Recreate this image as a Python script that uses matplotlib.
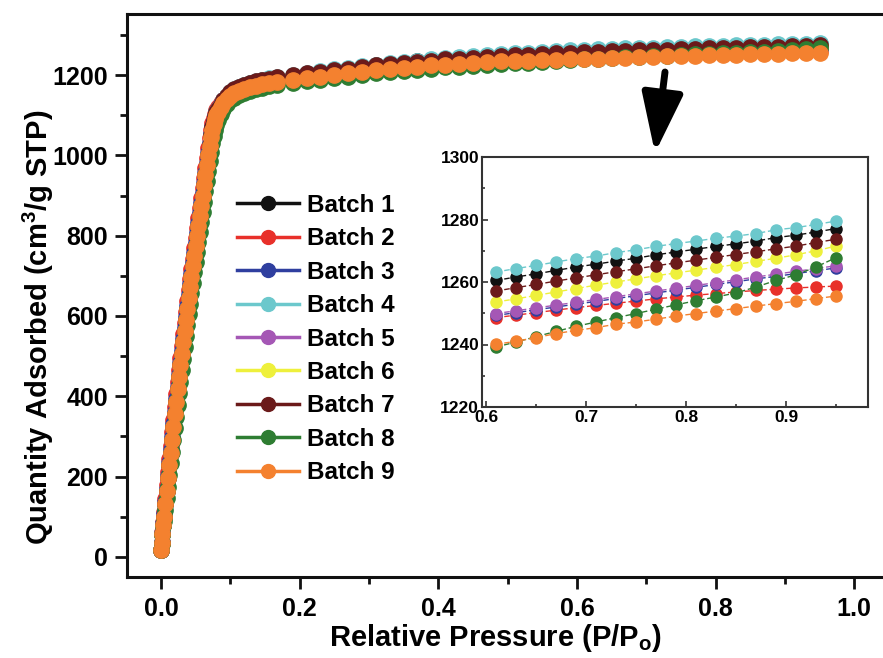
import matplotlib
matplotlib.use("Agg")
import matplotlib.pyplot as plt
from matplotlib.ticker import MultipleLocator

plt.rcParams['font.family'] = ['Liberation Sans', 'DejaVu Sans']
plt.rcParams['font.weight'] = 'bold'

# ---------------- data ----------------
labels = ["Batch 1", "Batch 2", "Batch 3", "Batch 4", "Batch 5",
          "Batch 6", "Batch 7", "Batch 8", "Batch 9"]
colors = ["#111111", "#e8302a", "#2f3f9f", "#6cc8cc", "#a557b5",
          "#eef03c", "#6b1a1a", "#2e7d32", "#f4812f"]

# relative pressure grid (main plot, P/Po < 0.6)
p_main = [0.0005, 0.001, 0.002, 0.003,
          0.004, 0.006, 0.008, 0.010, 0.012, 0.014, 0.016, 0.018, 0.020, 0.022,
          0.024, 0.026, 0.028, 0.030, 0.032, 0.034, 0.036, 0.038, 0.040, 0.042,
          0.044, 0.046, 0.048, 0.050, 0.052, 0.054, 0.056, 0.058, 0.060, 0.062,
          0.064, 0.066, 0.068, 0.070, 0.072, 0.074, 0.076, 0.078, 0.080, 0.082,
          0.086, 0.090, 0.095, 0.100, 0.106, 0.113, 0.120, 0.128, 0.137, 0.146,
          0.156, 0.167,
          0.19, 0.21, 0.23, 0.25, 0.27, 0.29, 0.31, 0.33, 0.35, 0.37, 0.39,
          0.41, 0.43, 0.45, 0.47, 0.49, 0.51, 0.53, 0.55, 0.57, 0.59]

b1_main = [17, 35, 58, 80,
           100, 132, 164, 196, 228, 260, 292, 324, 356, 387, 417, 447, 477, 506, 535, 563,
           591, 618, 645, 672, 698, 724, 750, 775, 800, 825, 850, 875, 900, 925, 950, 975,
           1000, 1026, 1050, 1069, 1084, 1096, 1106, 1114,
           1124, 1136, 1147, 1156, 1163, 1169, 1174, 1179, 1183, 1187, 1190, 1193,
           1198, 1203, 1208, 1212, 1216, 1220, 1224, 1228, 1231, 1234, 1237,
           1240, 1243, 1245, 1247, 1249, 1251, 1253, 1255, 1257, 1259]
b2_main = [18, 38, 63, 88,
           112, 145, 178, 211, 244, 277, 310, 342, 374, 405, 436, 466, 496, 525, 554, 582,
           610, 637, 664, 691, 717, 743, 769, 794, 819, 844, 869, 894, 919, 944, 969, 994,
           1018, 1042, 1063, 1080, 1093, 1104, 1113, 1120,
           1130, 1139, 1147, 1154, 1159, 1164, 1168, 1172, 1176, 1179, 1182, 1185,
           1190, 1195, 1199, 1203, 1207, 1211, 1215, 1218, 1221, 1224, 1227,
           1230, 1232, 1234, 1236, 1238, 1240, 1242, 1244, 1246, 1247]
b3_main = [17, 36, 60, 84,
           106, 138, 170, 202, 234, 266, 298, 330, 362, 393, 424, 454, 484, 513, 542, 570,
           598, 625, 652, 679, 705, 731, 757, 782, 807, 832, 857, 882, 907, 932, 957, 982,
           1007, 1031, 1053, 1071, 1085, 1097, 1107, 1115,
           1127, 1137, 1146, 1153, 1159, 1164, 1169, 1173, 1177, 1180, 1183, 1186,
           1191, 1196, 1200, 1204, 1208, 1212, 1216, 1219, 1222, 1225, 1228,
           1231, 1233, 1235, 1237, 1239, 1241, 1243, 1245, 1247, 1248]
b4_main = [17, 35, 58, 80,
           100, 132, 164, 196, 228, 260, 292, 324, 356, 387, 417, 447, 477, 506, 535, 563,
           591, 618, 645, 672, 698, 724, 750, 775, 800, 825, 850, 875, 900, 925, 950, 975,
           1000, 1026, 1050, 1069, 1084, 1097, 1107, 1115,
           1125, 1137, 1148, 1157, 1164, 1170, 1175, 1180, 1184, 1188, 1192, 1195,
           1200, 1205, 1210, 1214, 1218, 1222, 1226, 1230, 1233, 1236, 1239,
           1242, 1245, 1248, 1250, 1252, 1254, 1256, 1258, 1260, 1262]
b5_main = [17, 35, 58, 80,
           100, 132, 164, 196, 228, 260, 292, 324, 356, 387, 417, 447, 477, 506, 535, 563,
           591, 618, 645, 672, 698, 724, 750, 775, 800, 825, 850, 875, 900, 925, 950, 975,
           1000, 1023, 1044, 1061, 1075, 1087, 1097, 1106,
           1118, 1128, 1137, 1145, 1152, 1158, 1163, 1168, 1172, 1176, 1180, 1183,
           1188, 1193, 1198, 1202, 1206, 1210, 1214, 1218, 1221, 1224, 1227,
           1230, 1232, 1234, 1236, 1238, 1240, 1242, 1244, 1246, 1248]
b6_main = [17, 35, 58, 80,
           100, 132, 164, 196, 228, 260, 292, 324, 356, 387, 417, 447, 477, 506, 535, 563,
           591, 618, 645, 672, 698, 724, 750, 775, 800, 825, 850, 875, 900, 925, 950, 975,
           1000, 1024, 1046, 1064, 1078, 1090, 1101, 1110,
           1121, 1132, 1142, 1150, 1157, 1163, 1168, 1173, 1177, 1181, 1184, 1187,
           1192, 1197, 1202, 1206, 1210, 1214, 1218, 1222, 1225, 1228, 1231,
           1234, 1236, 1238, 1240, 1242, 1244, 1246, 1248, 1250, 1252]
b7_main = [17, 35, 58, 80,
           100, 132, 164, 196, 228, 260, 292, 324, 356, 387, 417, 447, 477, 506, 535, 563,
           591, 618, 645, 672, 698, 724, 750, 775, 800, 825, 850, 875, 900, 925, 950, 975,
           1001, 1027, 1051, 1070, 1085, 1097, 1107, 1115,
           1125, 1137, 1148, 1157, 1164, 1170, 1175, 1180, 1184, 1188, 1191, 1194,
           1199, 1204, 1208, 1212, 1216, 1220, 1224, 1227, 1230, 1233, 1236,
           1239, 1241, 1243, 1245, 1247, 1249, 1251, 1253, 1254, 1256]
b8_main = [17, 33, 55, 76,
           90, 118, 146, 175, 204, 233, 262, 291, 320, 349, 378, 407, 436, 465, 494, 522,
           550, 577, 604, 631, 657, 683, 709, 735, 760, 785, 810, 835, 860, 885, 910, 935,
           960, 985, 1008, 1030, 1048, 1063, 1076, 1087,
           1103, 1116, 1128, 1137, 1144, 1150, 1155, 1160, 1164, 1168, 1172, 1175,
           1179, 1184, 1188, 1192, 1196, 1200, 1204, 1207, 1210, 1213, 1216,
           1219, 1221, 1223, 1225, 1227, 1229, 1231, 1233, 1235, 1237]
b9_main = [17, 35, 58, 80,
           100, 132, 164, 196, 228, 260, 292, 324, 356, 387, 417, 447, 477, 506, 535, 563,
           591, 618, 645, 672, 698, 724, 750, 775, 800, 825, 850, 875, 900, 925, 950, 975,
           1000, 1024, 1046, 1064, 1078, 1090, 1100, 1108,
           1120, 1131, 1141, 1149, 1155, 1160, 1165, 1169, 1173, 1177, 1180, 1183,
           1187, 1192, 1196, 1200, 1204, 1208, 1212, 1215, 1218, 1221, 1224,
           1226, 1228, 1230, 1232, 1234, 1235, 1236, 1237, 1238, 1239]

# high-pressure points (shown in the inset and in the main plot)
p_high = [0.61, 0.63, 0.65, 0.67, 0.69, 0.71, 0.73, 0.75, 0.77,
          0.79, 0.81, 0.83, 0.85, 0.87, 0.89, 0.91, 0.93, 0.95]
b1_high = [1260.5, 1261.6, 1262.6, 1263.7, 1264.8, 1265.7, 1266.7, 1267.6, 1268.7,
           1269.6, 1270.5, 1271.4, 1272.2, 1273.1, 1274.2, 1275.0, 1276.0, 1277.1]
b2_high = [1248.6, 1249.4, 1250.2, 1251.0, 1251.8, 1252.5, 1253.2, 1253.9, 1254.6,
           1255.2, 1255.8, 1256.3, 1256.8, 1257.3, 1257.7, 1258.1, 1258.4, 1258.7]
b3_high = [1249.3, 1250.2, 1251.1, 1252.0, 1252.9, 1253.8, 1254.7, 1255.6, 1256.5,
           1257.4, 1258.3, 1259.2, 1260.1, 1261.0, 1261.8, 1262.7, 1263.6, 1264.5]
b4_high = [1263.2, 1264.3, 1265.3, 1266.4, 1267.5, 1268.3, 1269.4, 1270.3, 1271.4,
           1272.3, 1273.1, 1274.0, 1274.7, 1275.5, 1276.7, 1277.4, 1278.4, 1279.5]
b5_high = [1249.9, 1250.8, 1251.7, 1252.6, 1253.5, 1254.4, 1255.3, 1256.2, 1257.1,
           1258.0, 1258.9, 1259.8, 1260.7, 1261.6, 1262.5, 1263.4, 1264.3, 1265.2]
b6_high = [1253.6, 1254.6, 1255.7, 1256.8, 1257.9, 1259.0, 1260.0, 1261.0, 1262.0,
           1262.9, 1263.8, 1264.7, 1265.6, 1266.6, 1267.6, 1268.7, 1270.0, 1271.5]
b7_high = [1257.1, 1258.2, 1259.2, 1260.3, 1261.3, 1262.3, 1263.3, 1264.2, 1265.2,
           1266.1, 1267.0, 1267.9, 1268.8, 1269.7, 1270.6, 1271.5, 1272.6, 1273.7]
b8_high = [1239.2, 1240.8, 1242.5, 1244.2, 1245.8, 1247.2, 1248.6, 1249.9, 1251.3,
           1252.7, 1254.0, 1255.2, 1256.5, 1258.4, 1260.5, 1262.3, 1264.8, 1267.8]
b9_high = [1240.1, 1241.0, 1242.2, 1243.5, 1244.5, 1245.4, 1246.5, 1247.2, 1248.1,
           1249.1, 1249.9, 1250.7, 1251.5, 1252.3, 1253.1, 1253.8, 1254.7, 1255.5]

main_series = [b1_main, b2_main, b3_main, b4_main, b5_main,
               b6_main, b7_main, b8_main, b9_main]
high_series = [b1_high, b2_high, b3_high, b4_high, b5_high,
               b6_high, b7_high, b8_high, b9_high]

main_xticks = [0.0, 0.2, 0.4, 0.6, 0.8, 1.0]
main_yticks = [0, 200, 400, 600, 800, 1000, 1200]
inset_xticks = [0.6, 0.7, 0.8, 0.9]
inset_yticks = [1220, 1240, 1260, 1280, 1300]

# ---------------- figure ----------------
W, H = 883, 658
fig = plt.figure(figsize=(W / 100, H / 100), dpi=100)

# main axes (right edge extends past the figure, as in the reference)
L, R, T, B = 127, 905, 14, 577
ax = fig.add_axes([L / W, (H - B) / H, (R - L) / W, (B - T) / H])
x0 = -0.049
xr = x0 + (R - L) / 693.3
ax.set_xlim(x0, xr)
ax.set_ylim(-50, 1352)

for i in range(9):
    xs = p_main + p_high
    ys = main_series[i] + high_series[i]
    ax.plot(xs, ys, '-', color=colors[i], lw=1.5, marker='o', ms=11,
            mec=colors[i], mfc=colors[i], label=labels[i], zorder=2 + i)

ax.set_xticks(main_xticks)
ax.set_xticklabels([f"{v:.1f}" for v in main_xticks])
ax.set_yticks(main_yticks)
ax.xaxis.set_minor_locator(MultipleLocator(0.1))
ax.yaxis.set_minor_locator(MultipleLocator(100))
ax.tick_params(which='major', direction='out', length=8.5, width=2,
               labelsize=18, pad=5, color='#111111')
ax.tick_params(which='minor', direction='out', length=5, width=2, color='#111111')
ax.tick_params(axis='x', which='major', pad=6)
for lab in ax.get_xticklabels() + ax.get_yticklabels():
    lab.set_fontweight('bold')
for s in ax.spines.values():
    s.set_linewidth(2.2)
    s.set_color('#111111')

ax.set_xlabel(r"Relative Pressure (P/P$\mathregular{_o}$)", fontsize=21,
              fontweight='bold')
ax.set_ylabel(r"Quantity Adsorbed (cm$\mathregular{^3}$/g STP)", fontsize=21,
              fontweight='bold')
ax.xaxis.set_label_coords((495 - L) / (R - L), (B - 622) / (B - T))
ax.yaxis.set_label_coords((56 - L) / (R - L), (B - 327) / (B - T))

leg = ax.legend(loc='upper left', bbox_to_anchor=((227 - L) / (R - L), (B - 184) / (B - T)),
                frameon=False, fontsize=17.5, handlelength=2.55, handletextpad=0.33,
                labelspacing=0.43, borderaxespad=0, markerscale=1.0)
for t in leg.get_texts():
    t.set_fontweight('bold')
for h in leg.legend_handles:
    h.set_linewidth(2.5)
    h.set_markersize(10)

# inset axes
iL, iR, iT, iB = 482, 868, 157, 407
ins = fig.add_axes([iL / W, (H - iB) / H, (iR - iL) / W, (iB - iT) / H])
ins.set_facecolor('white')
for i in range(9):
    ins.plot(p_high, high_series[i], linestyle=(0, (4, 2)), color=colors[i], lw=1.0,
             marker='o', ms=8, mec=colors[i], mfc=colors[i], zorder=2 + i)
ins.set_xlim(0.596, 0.982)
ins.set_ylim(1220, 1300)
ins.set_xticks(inset_xticks)
ins.set_xticklabels([f"{v:.1f}" for v in inset_xticks])
ins.set_yticks(inset_yticks)
ins.xaxis.set_minor_locator(MultipleLocator(0.05))
ins.yaxis.set_minor_locator(MultipleLocator(10))
ins.tick_params(which='major', direction='in', length=4, width=1.2,
                labelsize=12.5, pad=2, color='#333333')
ins.tick_params(which='minor', direction='in', length=2.5, width=1.2, color='#333333')
for lab in ins.get_xticklabels() + ins.get_yticklabels():
    lab.set_fontweight('bold')
for s in ins.spines.values():
    s.set_linewidth(1.5)
    s.set_color('#333333')

# arrow pointing from the plateau to the inset
ax.annotate("", xy=(655, H - 153), xycoords='figure pixels',
            xytext=(665, H - 72), textcoords='figure pixels',
            arrowprops=dict(arrowstyle='-|>,head_width=0.45,head_length=1.3',
                            lw=5, color='black', mutation_scale=28,
                            shrinkA=0, shrinkB=0))

fig.savefig("out.png", dpi=100)
